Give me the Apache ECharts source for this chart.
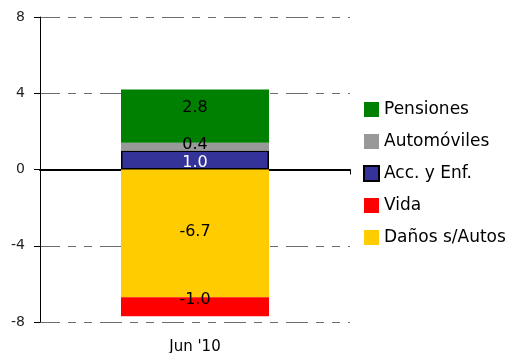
<!DOCTYPE html>
<html><head><meta charset="utf-8">
<script src="https://cdn.jsdelivr.net/npm/echarts@6/dist/echarts.min.js"></script>
<style>html,body{margin:0;padding:0;background:#fff}#c{width:515px;height:353px}</style>
</head><body><div id="c"></div>
<script>
var categories = ["Jun '10"];
var accEnf = [1.0];
var automoviles = [0.4];
var pensiones = [2.8];
var danos = [-6.7];
var vida = [-1.0];
var yTicks = [-8, -4, 0, 4, 8];

var font = 'DejaVu Sans';
var chart = echarts.init(document.getElementById('c'));
function lbl(color, dy) {
  return {show: true, position: 'inside', color: color, fontFamily: font, fontSize: 16,
    offset: [0, dy],
    formatter: function (p) { return p.value.toFixed(1); }};
}
chart.setOption({
  animation: false,
  backgroundColor: '#fff',
  grid: {left: 40, right: 165, top: 17, bottom: 31, containLabel: false, outerBoundsMode: 'none'},
  legend: {
    orient: 'vertical', left: 358, top: 96, itemWidth: 15, itemHeight: 15, itemGap: 15,
    icon: 'rect',
    textStyle: {fontFamily: font, fontSize: 17, color: '#000'},
    data: ['Pensiones', 'Automóviles', 'Acc. y Enf.', 'Vida', 'Daños s/Autos']
  },
  xAxis: [{
    type: 'category', data: categories, position: 'bottom',
    axisLine: {show: false, onZero: false}, axisTick: {show: false},
    axisLabel: {fontFamily: font, fontSize: 15, color: '#000', margin: 18}
  }, {
    type: 'category', data: categories, position: 'bottom', gridIndex: 0,
    axisLine: {show: true, onZero: true, lineStyle: {color: '#000', width: 2}},
    axisTick: {show: true, length: 5, lineStyle: {color: '#000'}},
    axisLabel: {show: false}
  }],
  yAxis: {
    type: 'value', min: yTicks[0], max: yTicks[yTicks.length - 1], interval: 4,
    axisLine: {show: true, lineStyle: {color: '#000'}},
    axisTick: {show: true, length: 6, lineStyle: {color: '#000'}},
    axisLabel: {fontFamily: font, fontSize: 14, color: '#222', margin: 15},
    splitLine: {show: true, lineStyle: {color: '#6e6e6e', type: [22, 8, 8, 8, 8, 8], dashOffset: 2, width: 1}}
  },
  series: [
    {name: 'Acc. y Enf.', type: 'bar', stack: 's', data: accEnf, barWidth: 148,
     itemStyle: {color: '#333399', borderColor: '#000', borderWidth: 1.5}, label: lbl('#fff', 2.5)},
    {name: 'Automóviles', type: 'bar', stack: 's', data: automoviles,
     itemStyle: {color: '#999999'}, label: lbl('#000', -2)},
    {name: 'Pensiones', type: 'bar', stack: 's', data: pensiones,
     itemStyle: {color: '#008000'}, label: lbl('#000', -8)},
    {name: 'Daños s/Autos', type: 'bar', stack: 's', data: danos,
     itemStyle: {color: '#FFCC00'}, label: lbl('#000', -1.5)},
    {name: 'Vida', type: 'bar', stack: 's', data: vida,
     itemStyle: {color: '#FF0000'}, label: lbl('#000', -7)}
  ]
});
</script></body></html>
